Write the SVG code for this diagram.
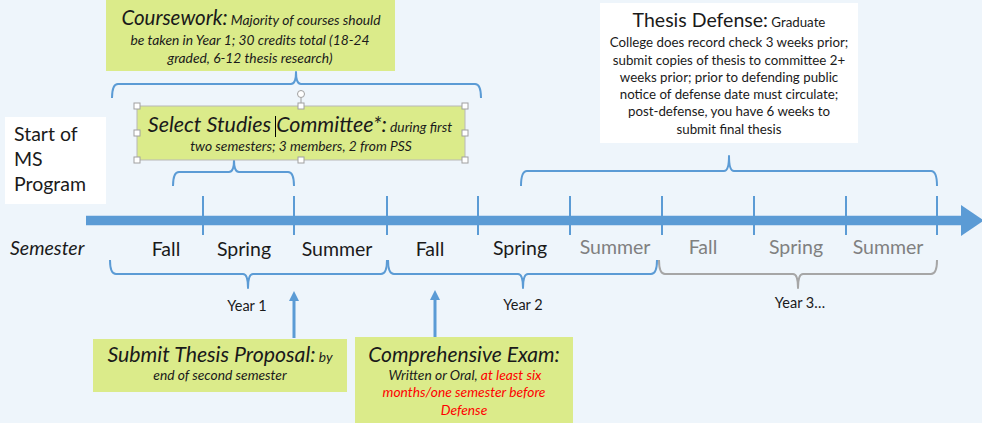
<svg xmlns="http://www.w3.org/2000/svg" width="982" height="423" viewBox="0 0 982 423">
<style>
.t{font-family:Lato,"Open Sans","DejaVu Sans",sans-serif;fill:#1a1a1a}
.i{font-style:italic}
.g{fill:#808080}
.r{fill:#ff0000}
.box{fill:#dbeb8a}
.wbox{fill:#ffffff}
.br{fill:none;stroke:#5b9bd5;stroke-width:2;stroke-linejoin:round}
.brg{fill:none;stroke:#a6a6a6;stroke-width:2;stroke-linejoin:round}
.tick{stroke:#5b9bd5;stroke-width:2}
.hd{fill:#ffffff;stroke:#a0a0a0;stroke-width:1}
</style>
<defs>
<marker id="ah" markerWidth="10" markerHeight="10" refX="5" refY="5" orient="auto" markerUnits="userSpaceOnUse">
<path d="M0,0 L10,5 L0,10 Z" fill="#5b9bd5"/>
</marker>
</defs>
<rect width="982" height="423" fill="#eef5fb"/>

<g id="connectors">
<line x1="86" y1="220.5" x2="963" y2="220.5" stroke="#5b9bd5" stroke-width="9.5"/>
<polygon points="961,205 984,220.5 961,236" fill="#5b9bd5"/>
<g>
<line class="tick" x1="203" y1="196" x2="203" y2="235"/>
<line class="tick" x1="294" y1="196" x2="294" y2="235"/>
<line class="tick" x1="387" y1="196" x2="387" y2="235"/>
<line class="tick" x1="478" y1="196" x2="478" y2="235"/>
<line class="tick" x1="570" y1="196" x2="570" y2="235"/>
<line class="tick" x1="662" y1="196" x2="662" y2="235"/>
<line class="tick" x1="754" y1="196" x2="754" y2="235"/>
<line class="tick" x1="846" y1="196" x2="846" y2="235"/>
<line class="tick" x1="937" y1="196" x2="937" y2="235"/>
</g>
<path class="br" d="M112,98 Q112,84 118,84 L291,84 Q296,84 296,72 Q296,84 301,84 L475,84 Q481,84 481,98"/>
<path class="br" d="M173,186 Q173,172 179,172 L229,172 Q234,172 234,160 Q234,172 239,172 L288,172 Q294,172 294,186"/>
<path class="br" d="M521,186 Q521,171 527,171 L724,171 Q729,171 729,156 Q729,171 734,171 L931,171 Q937,171 937,186"/>
<path class="br" d="M110,260 Q110,274 116,274 L243,274 Q248,274 248,288 Q248,274 253,274 L381,274 Q387,274 387,260"/>
<path class="br" d="M388,260 Q388,274 394,274 L518,274 Q523,274 523,288 Q523,274 528,274 L651,274 Q657,274 657,260"/>
<path class="brg" d="M659,260 Q659,274 665,274 L793,274 Q798,274 798,288 Q798,274 803,274 L931,274 Q937,274 937,260"/>
<line x1="294" y1="338" x2="294" y2="296" stroke="#5b9bd5" stroke-width="3" marker-end="url(#ah)"/>
<line x1="435" y1="337" x2="435" y2="295" stroke="#5b9bd5" stroke-width="3" marker-end="url(#ah)"/>
</g>

<g id="coursework">
<rect class="box" x="106" y="0" width="289" height="71"/>
<text class="t i" x="251" y="25" text-anchor="middle"><tspan font-size="20.5">Coursework:</tspan><tspan font-size="13.8"> Majority of courses should</tspan></text>
<text class="t i" x="250" y="45" text-anchor="middle" font-size="13.8">be taken in Year 1; 30 credits total (18-24</text>
<text class="t i" x="250" y="63" text-anchor="middle" font-size="13.8">graded, 6-12 thesis research)</text>
</g>

<g id="committee">
<rect class="box" x="137" y="106" width="328" height="54" stroke="#b8b8b8" stroke-width="1"/>
<text class="t i" x="300" y="132" text-anchor="middle"><tspan font-size="21.5">Select Studies Committee*:</tspan><tspan font-size="13.8"> during first</tspan></text>
<text class="t i" x="301" y="151" text-anchor="middle" font-size="13.8">two semesters; 3 members, 2 from PSS</text>
<line x1="275.5" y1="116" x2="275.5" y2="137" stroke="#000" stroke-width="1"/>
<line x1="301" y1="97.5" x2="301" y2="106" stroke="#a0a0a0" stroke-width="1"/>
<circle cx="301" cy="94" r="3.5" fill="#ffffff" stroke="#a0a0a0" stroke-width="1"/>
<rect class="hd" x="134" y="103" width="6" height="6"/>
<rect class="hd" x="298" y="103" width="6" height="6"/>
<rect class="hd" x="462" y="103" width="6" height="6"/>
<rect class="hd" x="134" y="130" width="6" height="6"/>
<rect class="hd" x="462" y="130" width="6" height="6"/>
<rect class="hd" x="134" y="157" width="6" height="6"/>
<rect class="hd" x="298" y="157" width="6" height="6"/>
<rect class="hd" x="462" y="157" width="6" height="6"/>
</g>

<g id="start">
<rect class="wbox" x="5" y="117" width="101" height="87"/>
<text class="t" x="14" y="141" font-size="19.5">Start of</text>
<text class="t" x="14" y="166" font-size="19.5">MS</text>
<text class="t" x="14" y="191" font-size="19.5">Program</text>
</g>

<g id="defense">
<rect class="wbox" x="600" y="3" width="258" height="140"/>
<text class="t" x="729" y="27" text-anchor="middle"><tspan font-size="19.5">Thesis Defense:</tspan><tspan font-size="13.3"> Graduate</tspan></text>
<text class="t" x="729" y="47" text-anchor="middle" font-size="13.3">College does record check 3 weeks prior;</text>
<text class="t" x="729" y="65" text-anchor="middle" font-size="13.3">submit copies of thesis to committee 2+</text>
<text class="t" x="729" y="82" text-anchor="middle" font-size="13.3">weeks prior; prior to defending public</text>
<text class="t" x="729" y="99" text-anchor="middle" font-size="13.3">notice of defense date must circulate;</text>
<text class="t" x="729" y="116" text-anchor="middle" font-size="13.3">post-defense, you have 6 weeks to</text>
<text class="t" x="729" y="134" text-anchor="middle" font-size="13.3">submit final thesis</text>
</g>

<g id="semesters">
<text class="t i" x="10" y="255" font-size="19.5">Semester</text>
<text class="t" x="166" y="256" text-anchor="middle" font-size="19.5">Fall</text>
<text class="t" x="244" y="256" text-anchor="middle" font-size="19.5">Spring</text>
<text class="t" x="337" y="256" text-anchor="middle" font-size="19.5">Summer</text>
<text class="t" x="430" y="256" text-anchor="middle" font-size="19.5">Fall</text>
<text class="t" x="520" y="255" text-anchor="middle" font-size="19.5">Spring</text>
<text class="t g" x="615" y="254" text-anchor="middle" font-size="19.5">Summer</text>
<text class="t g" x="703" y="254" text-anchor="middle" font-size="19.5">Fall</text>
<text class="t g" x="796" y="254" text-anchor="middle" font-size="19.5">Spring</text>
<text class="t g" x="888" y="254" text-anchor="middle" font-size="19.5">Summer</text>
</g>

<g id="years">
<text class="t" x="247" y="311" text-anchor="middle" font-size="14.5">Year 1</text>
<text class="t" x="523" y="310" text-anchor="middle" font-size="14.5">Year 2</text>
<text class="t" x="800" y="308" text-anchor="middle" font-size="14.5">Year 3…</text>
</g>

<g id="proposal">
<rect class="box" x="93" y="339" width="254" height="53"/>
<text class="t i" x="220" y="362" text-anchor="middle"><tspan font-size="21.3">Submit Thesis Proposal:</tspan><tspan font-size="13.8"> by</tspan></text>
<text class="t i" x="220" y="380" text-anchor="middle" font-size="13.8">end of second semester</text>
</g>

<g id="exam">
<rect class="box" x="355" y="337" width="218" height="86"/>
<text class="t i" x="464" y="362" text-anchor="middle" font-size="21">Comprehensive Exam:</text>
<text class="t i" x="465" y="380" text-anchor="middle" font-size="13.8">Written or Oral, <tspan class="r">at least six</tspan></text>
<text class="t i r" x="464" y="397" text-anchor="middle" font-size="13.8">months/one semester before</text>
<text class="t i r" x="464" y="415" text-anchor="middle" font-size="13.8">Defense</text>
</g>
</svg>
